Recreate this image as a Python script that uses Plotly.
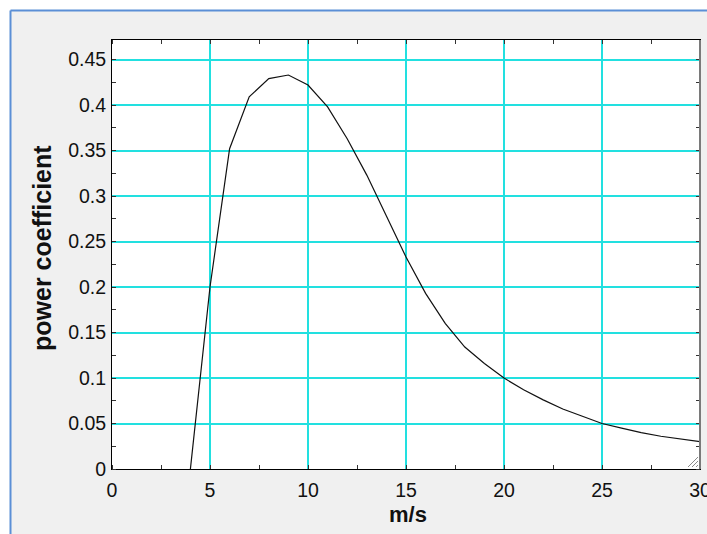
import plotly.graph_objects as go

# Power coefficient curve of a wind turbine versus wind speed
wind_speed = [4, 5, 6, 7, 8, 9, 10, 11, 12, 13, 14, 15, 16, 17, 18, 19, 20,
              21, 22, 23, 24, 25, 26, 27, 28, 29, 30]
power_coef = [0.0, 0.200, 0.352, 0.409, 0.429, 0.433, 0.422, 0.398, 0.363,
              0.323, 0.278, 0.233, 0.193, 0.160, 0.134, 0.116, 0.100,
              0.087, 0.076, 0.066, 0.058, 0.050, 0.045, 0.040, 0.036,
              0.033, 0.030]

x_ticks = [0, 5, 10, 15, 20, 25, 30]
y_ticks = [0, 0.05, 0.1, 0.15, 0.2, 0.25, 0.3, 0.35, 0.4, 0.45]
y_tick_text = ["0", "0.05", "0.1", "0.15", "0.2", "0.25", "0.3", "0.35", "0.4", "0.45"]

W, H = 707, 534
L, R, T, B = 112, 7, 40, 65
PW, PH = W - L - R, H - T - B


def px(x):
    return (x - L) / PW


def py(y):
    return (H - B - y) / PH


FONT = "Liberation Sans, Arial, sans-serif"
GRID = "#22e0e0"

fig = go.Figure()
fig.add_trace(go.Scatter(x=wind_speed, y=power_coef, mode="lines",
                         line=dict(color="#111111", width=1.2),
                         hoverinfo="x+y", showlegend=False))

axis_common = dict(
    showgrid=True, gridcolor=GRID, gridwidth=1.5,
    showline=True, linecolor="#000000", linewidth=1, mirror="allticks",
    ticks="", zeroline=False, ticklabeloverflow="allow",
    tickfont=dict(family=FONT, size=19.5, color="#111111"),
)

fig.update_xaxes(range=[0, 30], tickvals=x_ticks, ticklabelstandoff=4,
                 minor=dict(dtick=2.5, tick0=0, ticks="inside", ticklen=4,
                            tickcolor="#333333", showgrid=False),
                 **axis_common)
fig.update_yaxes(range=[0, 0.4715], tickvals=y_ticks, ticktext=y_tick_text,
                 ticklabelstandoff=1,
                 minor=dict(dtick=0.025, tick0=0, ticks="inside", ticklen=4,
                            tickcolor="#333333", showgrid=False),
                 **axis_common)

shapes = [
    # white margin outside the window frame
    dict(type="rect", xref="paper", yref="paper", x0=px(0), x1=px(10), y0=py(H), y1=py(0),
         fillcolor="white", line=dict(width=0), layer="above"),
    dict(type="rect", xref="paper", yref="paper", x0=px(0), x1=px(W), y0=py(10), y1=py(0),
         fillcolor="white", line=dict(width=0), layer="above"),
    # blue window frame edges
    dict(type="line", xref="paper", yref="paper", x0=px(10.5), x1=px(10.5), y0=py(H), y1=py(10.5),
         line=dict(color="#5b8fd6", width=2)),
    dict(type="line", xref="paper", yref="paper", x0=px(10.5), x1=px(W), y0=py(10.5), y1=py(10.5),
         line=dict(color="#5b8fd6", width=2)),
    # grey right edge of the plot box
    dict(type="line", xref="paper", yref="paper", x0=1, x1=1, y0=0, y1=1,
         line=dict(color="#7a7a7a", width=2)),
]
# resize grip in the lower right corner
for k in range(3):
    off = 4 + 4 * k
    shapes.append(dict(type="line", xref="paper", yref="paper",
                       x0=px(L + PW - 2), y0=py(H - B - off),
                       x1=px(L + PW - off), y1=py(H - B - 2),
                       line=dict(color="#8a8a8a", width=1)))

annotations = [
    dict(text="<b>power coefficient</b>", xref="paper", yref="paper",
         x=px(42), y=py(248), textangle=-90, showarrow=False,
         font=dict(family=FONT, size=25, color="#111111"),
         xanchor="center", yanchor="middle"),
    dict(text="<b>m/s</b>", xref="paper", yref="paper",
         x=px(408), y=py(514), showarrow=False,
         font=dict(family=FONT, size=22, color="#111111"),
         xanchor="center", yanchor="middle"),
]

fig.update_layout(
    width=W, height=H,
    margin=dict(l=L, r=R, t=T, b=B, autoexpand=False),
    paper_bgcolor="#f0f0f0", plot_bgcolor="white",
    shapes=shapes, annotations=annotations,
    showlegend=False,
)

fig.write_html("out.html")
